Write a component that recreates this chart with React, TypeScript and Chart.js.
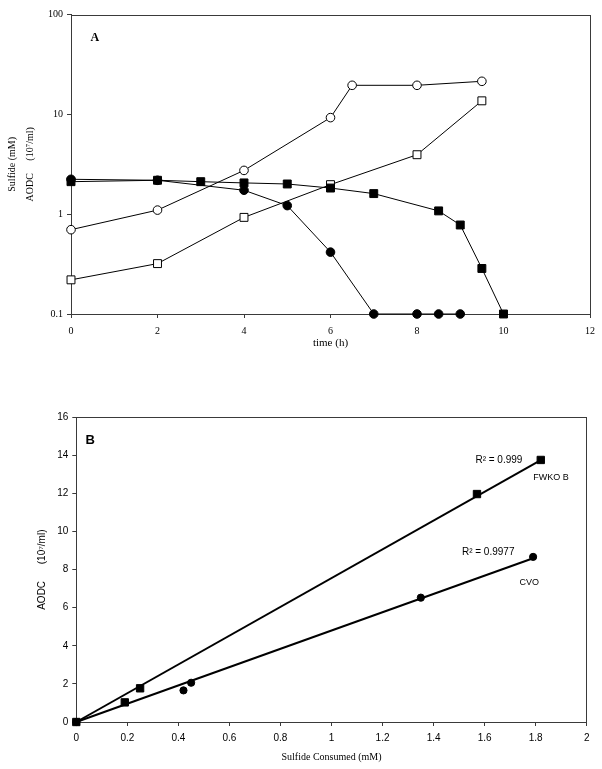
import React, { useEffect, useRef } from "react";
import { Chart, registerables } from "chart.js";

Chart.register(...registerables);

// ---------- Panel A data ----------
const timeTicks = [0, 2, 4, 6, 8, 10, 12];
const logTicks = [0.1, 1, 10, 100];

const timeAodcCVO = [0, 2, 4, 6, 6.5, 8, 9.5];
const aodcCVO = [0.7, 1.1, 2.75, 9.3, 19.6, 19.6, 21.5];

const timeAodcFWKO = [0, 2, 4, 6, 8, 9.5];
const aodcFWKO = [0.22, 0.32, 0.93, 1.98, 3.95, 13.7];

const timeSulfideCVO = [0, 2, 4, 5, 6, 7, 8, 8.5, 9];
const sulfideCVO = [2.24, 2.19, 1.74, 1.22, 0.417, 0.1, 0.1, 0.1, 0.1];

const timeSulfideFWKO = [0, 2, 3, 4, 5, 6, 7, 8.5, 9, 9.5, 10];
const sulfideFWKO = [2.12, 2.19, 2.12, 2.06, 2.01, 1.83, 1.61, 1.08, 0.78, 0.286, 0.1];

// ---------- Panel B data ----------
const consumedTicks = [0, 0.2, 0.4, 0.6, 0.8, 1, 1.2, 1.4, 1.6, 1.8, 2];
const consumedFWKO = [0, 0.19, 0.25, 1.57, 1.82];
const aodcFWKO_B = [0, 1.03, 1.77, 11.97, 13.76];
const consumedCVO = [0, 0.42, 0.45, 1.35, 1.79];
const aodcCVO_B = [0, 1.66, 2.06, 6.53, 8.67];

const fitFWKOx = [0, 1.82];
const fitFWKOy = [0, 13.75];
const fitCVOx = [0, 1.79];
const fitCVOy = [0, 8.6];

const SERIF = "'Liberation Serif', 'Times New Roman', serif";
const SANS = "'Liberation Sans', Arial, sans-serif";
const AXIS = "#3a3a3a";

const pts = (xs: number[], ys: number[]) => xs.map((x, i) => ({ x, y: ys[i] }));

const framePlugin = {
  id: "frameText",
  beforeDatasetsDraw(chart: any, _args: any, opts: any) {
    const { ctx, chartArea: a } = chart;
    ctx.save();
    ctx.strokeStyle = opts.frameColor || AXIS;
    ctx.lineWidth = 1;
    ctx.strokeRect(Math.round(a.left) + 0.5, Math.round(a.top) + 0.5, Math.round(a.right - a.left), Math.round(a.bottom - a.top));
    ctx.restore();
  },
  afterDatasetsDraw(chart: any, _args: any, opts: any) {
    const { ctx } = chart;
    const items = opts.items || [];
    ctx.save();
    for (const it of items) {
      const px = chart.scales.x.getPixelForValue(it.x);
      const py = chart.scales.y.getPixelForValue(it.y);
      ctx.font = it.font;
      ctx.fillStyle = "#000";
      ctx.textAlign = it.align || "center";
      ctx.textBaseline = "middle";
      ctx.fillText(it.text, px, py);
    }
    ctx.restore();
  },
};

function lineSet(label: string, xs: number[], ys: number[], style: string, filled: boolean, radius: number, width = 1) {
  return {
    label,
    data: pts(xs, ys),
    showLine: true,
    borderColor: "#000",
    borderWidth: width,
    pointStyle: style,
    pointRadius: radius,
    pointBorderWidth: 1,
    pointBorderColor: "#000",
    pointBackgroundColor: filled ? "#000" : "#fff",
    clip: false,
    tension: 0,
  };
}

function PanelA() {
  const ref = useRef<HTMLCanvasElement>(null);
  useEffect(() => {
    const chart = new Chart(ref.current!, {
      type: "scatter",
      data: {
        datasets: [
          lineSet("Sulfide FWKO B", timeSulfideFWKO, sulfideFWKO, "rect", true, 5.6),
          lineSet("Sulfide CVO", timeSulfideCVO, sulfideCVO, "circle", true, 4.3),
          lineSet("AODC FWKO B", timeAodcFWKO, aodcFWKO, "rect", false, 5.6),
          lineSet("AODC CVO", timeAodcCVO, aodcCVO, "circle", false, 4.3),
        ] as any,
      },
      options: {
        responsive: false,
        animation: false,
        layout: { padding: { left: 0, top: 14.7, right: 9, bottom: 0 } },
        plugins: {
          legend: { display: false },
          tooltip: { enabled: false },
          frameText: {
            frameColor: AXIS,
            items: [{ text: "A", x: 0.55, y: 58.9, font: `bold 12px ${SERIF}` }],
          },
        } as any,
        scales: {
          x: {
            type: "linear",
            min: 0,
            max: 12,
            afterBuildTicks: (s: any) => {
              s.ticks = timeTicks.map((v) => ({ value: v }));
            },
            afterFit: (s: any) => {
              s.height = 46;
            },
            ticks: { color: "#000", font: { family: SERIF, size: 10 }, padding: 7, maxRotation: 0 },
            grid: { drawOnChartArea: false, tickLength: 4, color: AXIS },
            border: { color: AXIS },
            title: {
              display: true,
              text: "time (h)",
              color: "#000",
              font: { family: SERIF, size: 11 },
              padding: { top: 0, bottom: 10.4 },
            },
          },
          y: {
            type: "logarithmic",
            min: 0.1,
            max: 100,
            afterBuildTicks: (s: any) => {
              s.ticks = logTicks.map((v) => ({ value: v }));
            },
            afterFit: (s: any) => {
              s.width = 71;
            },
            ticks: {
              color: "#000",
              font: { family: SERIF, size: 10 },
              padding: 4,
              callback: (v: any) => String(v),
            },
            grid: { drawOnChartArea: false, tickLength: 4, color: AXIS },
            border: { color: AXIS },
            title: {
              display: true,
              text: ["Sulfide (mM)", "AODC     (10\u2077/ml)"],
              color: "#000",
              font: { family: SERIF, size: 10, lineHeight: 1.8 },
              padding: { top: 3, bottom: 0 },
            },
          },
        } as any,
      },
      plugins: [framePlugin as any],
    });
    return () => chart.destroy();
  }, []);
  return (
    <canvas
      ref={ref}
      width={602}
      height={360}
      style={{ position: "absolute", left: 0, top: 0, width: 602, height: 360, display: "block" }}
    />
  );
}

function PanelB() {
  const ref = useRef<HTMLCanvasElement>(null);
  useEffect(() => {
    const chart = new Chart(ref.current!, {
      type: "scatter",
      data: {
        datasets: [
          { ...lineSet("FWKO B fit", fitFWKOx, fitFWKOy, "circle", true, 0, 2), pointRadius: 0 },
          { ...lineSet("CVO fit", fitCVOx, fitCVOy, "circle", true, 0, 2), pointRadius: 0 },
          { ...lineSet("FWKO B", consumedFWKO, aodcFWKO_B, "rect", true, 5.2), showLine: false },
          { ...lineSet("CVO", consumedCVO, aodcCVO_B, "circle", true, 3.6), showLine: false },
        ] as any,
      },
      options: {
        responsive: false,
        animation: false,
        layout: { padding: { left: 0, top: 37.3, right: 15.3, bottom: 0 } },
        plugins: {
          legend: { display: false },
          tooltip: { enabled: false },
          frameText: {
            frameColor: AXIS,
            items: [
              { text: "B", x: 0.054, y: 14.76, font: `bold 13px ${SANS}` },
              { text: "R\u00b2 = 0.999", x: 1.656, y: 13.76, font: `10px ${SANS}` },
              { text: "FWKO B", x: 1.86, y: 12.83, font: `9px ${SANS}` },
              { text: "R\u00b2 = 0.9977", x: 1.614, y: 8.93, font: `10px ${SANS}` },
              { text: "CVO", x: 1.775, y: 7.32, font: `9px ${SANS}` },
            ],
          },
        } as any,
        scales: {
          x: {
            type: "linear",
            min: 0,
            max: 2,
            afterBuildTicks: (s: any) => {
              s.ticks = consumedTicks.map((v) => ({ value: v }));
            },
            afterFit: (s: any) => {
              s.height = 47;
            },
            ticks: { color: "#000", font: { family: SANS, size: 10 }, padding: 6, maxRotation: 0, callback: (v: any) => String(v) },
            grid: { drawOnChartArea: false, tickLength: 4, color: AXIS },
            border: { color: AXIS },
            title: {
              display: true,
              text: "Sulfide Consumed (mM)",
              color: "#000",
              font: { family: SERIF, size: 10 },
              padding: { top: 0, bottom: 6 },
            },
          },
          y: {
            type: "linear",
            min: 0,
            max: 16,
            ticks: { stepSize: 2, color: "#000", font: { family: SANS, size: 10 }, padding: 4 },
            afterFit: (s: any) => {
              s.width = 76.3;
            },
            grid: { drawOnChartArea: false, tickLength: 4, color: AXIS },
            border: { color: AXIS },
            title: {
              display: true,
              text: "AODC      (10\u2077/ml)",
              color: "#000",
              font: { family: SANS, size: 10 },
              padding: { top: 36, bottom: 0 },
            },
          },
        } as any,
      },
      plugins: [framePlugin as any],
    });
    return () => chart.destroy();
  }, []);
  return (
    <canvas
      ref={ref}
      width={602}
      height={389}
      style={{ position: "absolute", left: 0, top: 380, width: 602, height: 389, display: "block" }}
    />
  );
}

export default function App() {
  return (
    <div style={{ position: "absolute", left: 0, top: 0, width: 602, height: 769, background: "#fff", overflow: "hidden" }}>
      <PanelA />
      <PanelB />
    </div>
  );
}
